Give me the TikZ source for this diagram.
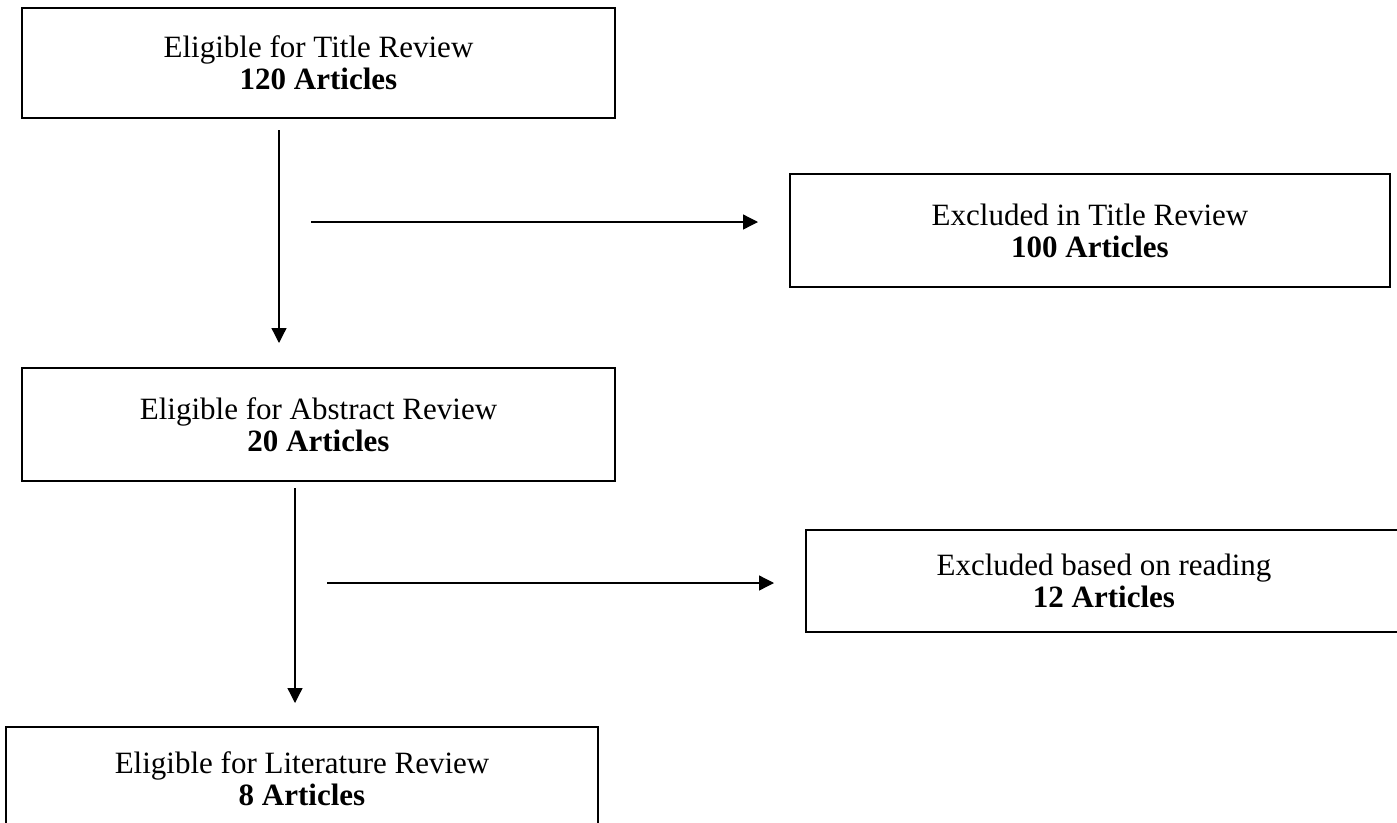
\documentclass[tikz,border=0pt]{standalone}
\usepackage{fontspec}
\setmainfont{Liberation Serif}
\usetikzlibrary{arrows.meta}
\begin{document}
\begin{tikzpicture}[x=1pt,y=-1pt,
  box/.style={draw,line width=2.6pt,rectangle,inner sep=0pt,align=center,
    font=\fontsize{31}{32}\selectfont},
  flow/.style={line width=1.3pt,-{Triangle[length=15pt,width=15pt]}}]
\useasboundingbox (0,0) rectangle (1397,822);
\clip (0,0) rectangle (1397,822);

% screening stages
\node[box,minimum width=593pt,minimum height=110pt] (title) at (318.5,63)
  {Eligible for Title Review\\\textbf{120 Articles}};
\node[box,minimum width=600pt,minimum height=113pt] (extitle) at (1090,230.5)
  {Excluded in Title Review\\\textbf{100 Articles}};
\node[box,minimum width=593pt,minimum height=113pt] (abstract) at (318.5,424.5)
  {Eligible for Abstract Review\\\textbf{20 Articles}};
\node[box,minimum width=596pt,minimum height=102pt] (exread) at (1104,581)
  {Excluded based on reading\\\textbf{12 Articles}};
\node[box,minimum width=592pt,minimum height=104pt] (lit) at (302,779)
  {Eligible for Literature Review\\\textbf{8 Articles}};

% free ends of the flow arrows
\coordinate (d1s) at (279,130);
\coordinate (d1e) at (279,343);
\coordinate (r1s) at (311,222);
\coordinate (r1e) at (758,222);
\coordinate (d2s) at (295,488);
\coordinate (d2e) at (295,703);
\coordinate (r2s) at (327,583);
\coordinate (r2e) at (774,583);

\draw[flow] (d1s) -- (d1e);
\draw[flow] (r1s) -- (r1e);
\draw[flow] (d2s) -- (d2e);
\draw[flow] (r2s) -- (r2e);
\end{tikzpicture}
\end{document}
